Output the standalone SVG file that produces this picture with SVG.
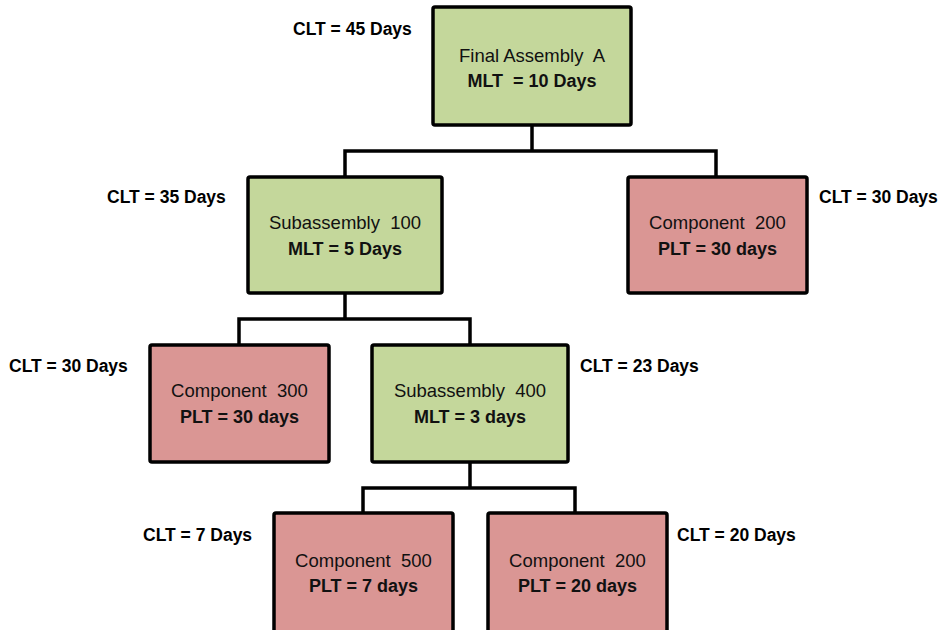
<svg xmlns="http://www.w3.org/2000/svg" width="940" height="630" viewBox="0 0 940 630">
<style>
.box{stroke:#000;stroke-width:3.5;}
.mfg{fill:#C4D79B;}
.pur{fill:#DA9694;}
.t{font-family:"Liberation Sans",Arial,sans-serif;font-size:18.5px;fill:#111;text-anchor:middle;white-space:pre;}
.b{font-family:"Liberation Sans",Arial,sans-serif;font-size:18px;font-weight:bold;fill:#111;text-anchor:middle;white-space:pre;}
.clt{font-family:"Liberation Sans",Arial,sans-serif;font-size:17.5px;font-weight:bold;fill:#000;}
.ln{fill:none;stroke:#000;stroke-width:3.5;stroke-linejoin:miter;}
</style>
<rect width="940" height="630" fill="#fff"/>
<g id="connectors">
<path class="ln" d="M532 125V151M345 177V151H716V177"/>
<path class="ln" d="M345 293V319M239 345V319H470V345"/>
<path class="ln" d="M470 462V488M363 513V488H575V513"/>
</g>
<g id="final-assembly-a">
<rect class="box mfg" x="433" y="7" width="198" height="118" rx="2"/>
<text class="t" x="532" y="62" xml:space="preserve">Final Assembly  A</text>
<text class="b" x="532" y="87" xml:space="preserve">MLT  = 10 Days</text>
<text class="clt" x="293" y="35">CLT = 45 Days</text>
</g>
<g id="subassembly-100">
<rect class="box mfg" x="248" y="177" width="194" height="116" rx="2"/>
<text class="t" x="345" y="229" xml:space="preserve">Subassembly  100</text>
<text class="b" x="345" y="255">MLT = 5 Days</text>
<text class="clt" x="107" y="203">CLT = 35 Days</text>
</g>
<g id="component-200-top">
<rect class="box pur" x="628" y="177" width="179" height="116" rx="2"/>
<text class="t" x="717.5" y="229" xml:space="preserve">Component  200</text>
<text class="b" x="717.5" y="255">PLT = 30 days</text>
<text class="clt" x="819" y="203">CLT = 30 Days</text>
</g>
<g id="component-300">
<rect class="box pur" x="150" y="345" width="179" height="117" rx="2"/>
<text class="t" x="239.5" y="397" xml:space="preserve">Component  300</text>
<text class="b" x="239.5" y="423">PLT = 30 days</text>
<text class="clt" x="9" y="372">CLT = 30 Days</text>
</g>
<g id="subassembly-400">
<rect class="box mfg" x="372" y="345" width="196" height="117" rx="2"/>
<text class="t" x="470" y="397" xml:space="preserve">Subassembly  400</text>
<text class="b" x="470" y="423">MLT = 3 days</text>
<text class="clt" x="580" y="372">CLT = 23 Days</text>
</g>
<g id="component-500">
<rect class="box pur" x="274" y="513" width="179" height="130" rx="2"/>
<text class="t" x="363.5" y="567" xml:space="preserve">Component  500</text>
<text class="b" x="363.5" y="592">PLT = 7 days</text>
<text class="clt" x="143" y="541">CLT = 7 Days</text>
</g>
<g id="component-200-bottom">
<rect class="box pur" x="488" y="513" width="179" height="130" rx="2"/>
<text class="t" x="577.5" y="567" xml:space="preserve">Component  200</text>
<text class="b" x="577.5" y="592">PLT = 20 days</text>
<text class="clt" x="677" y="541">CLT = 20 Days</text>
</g>
</svg>
